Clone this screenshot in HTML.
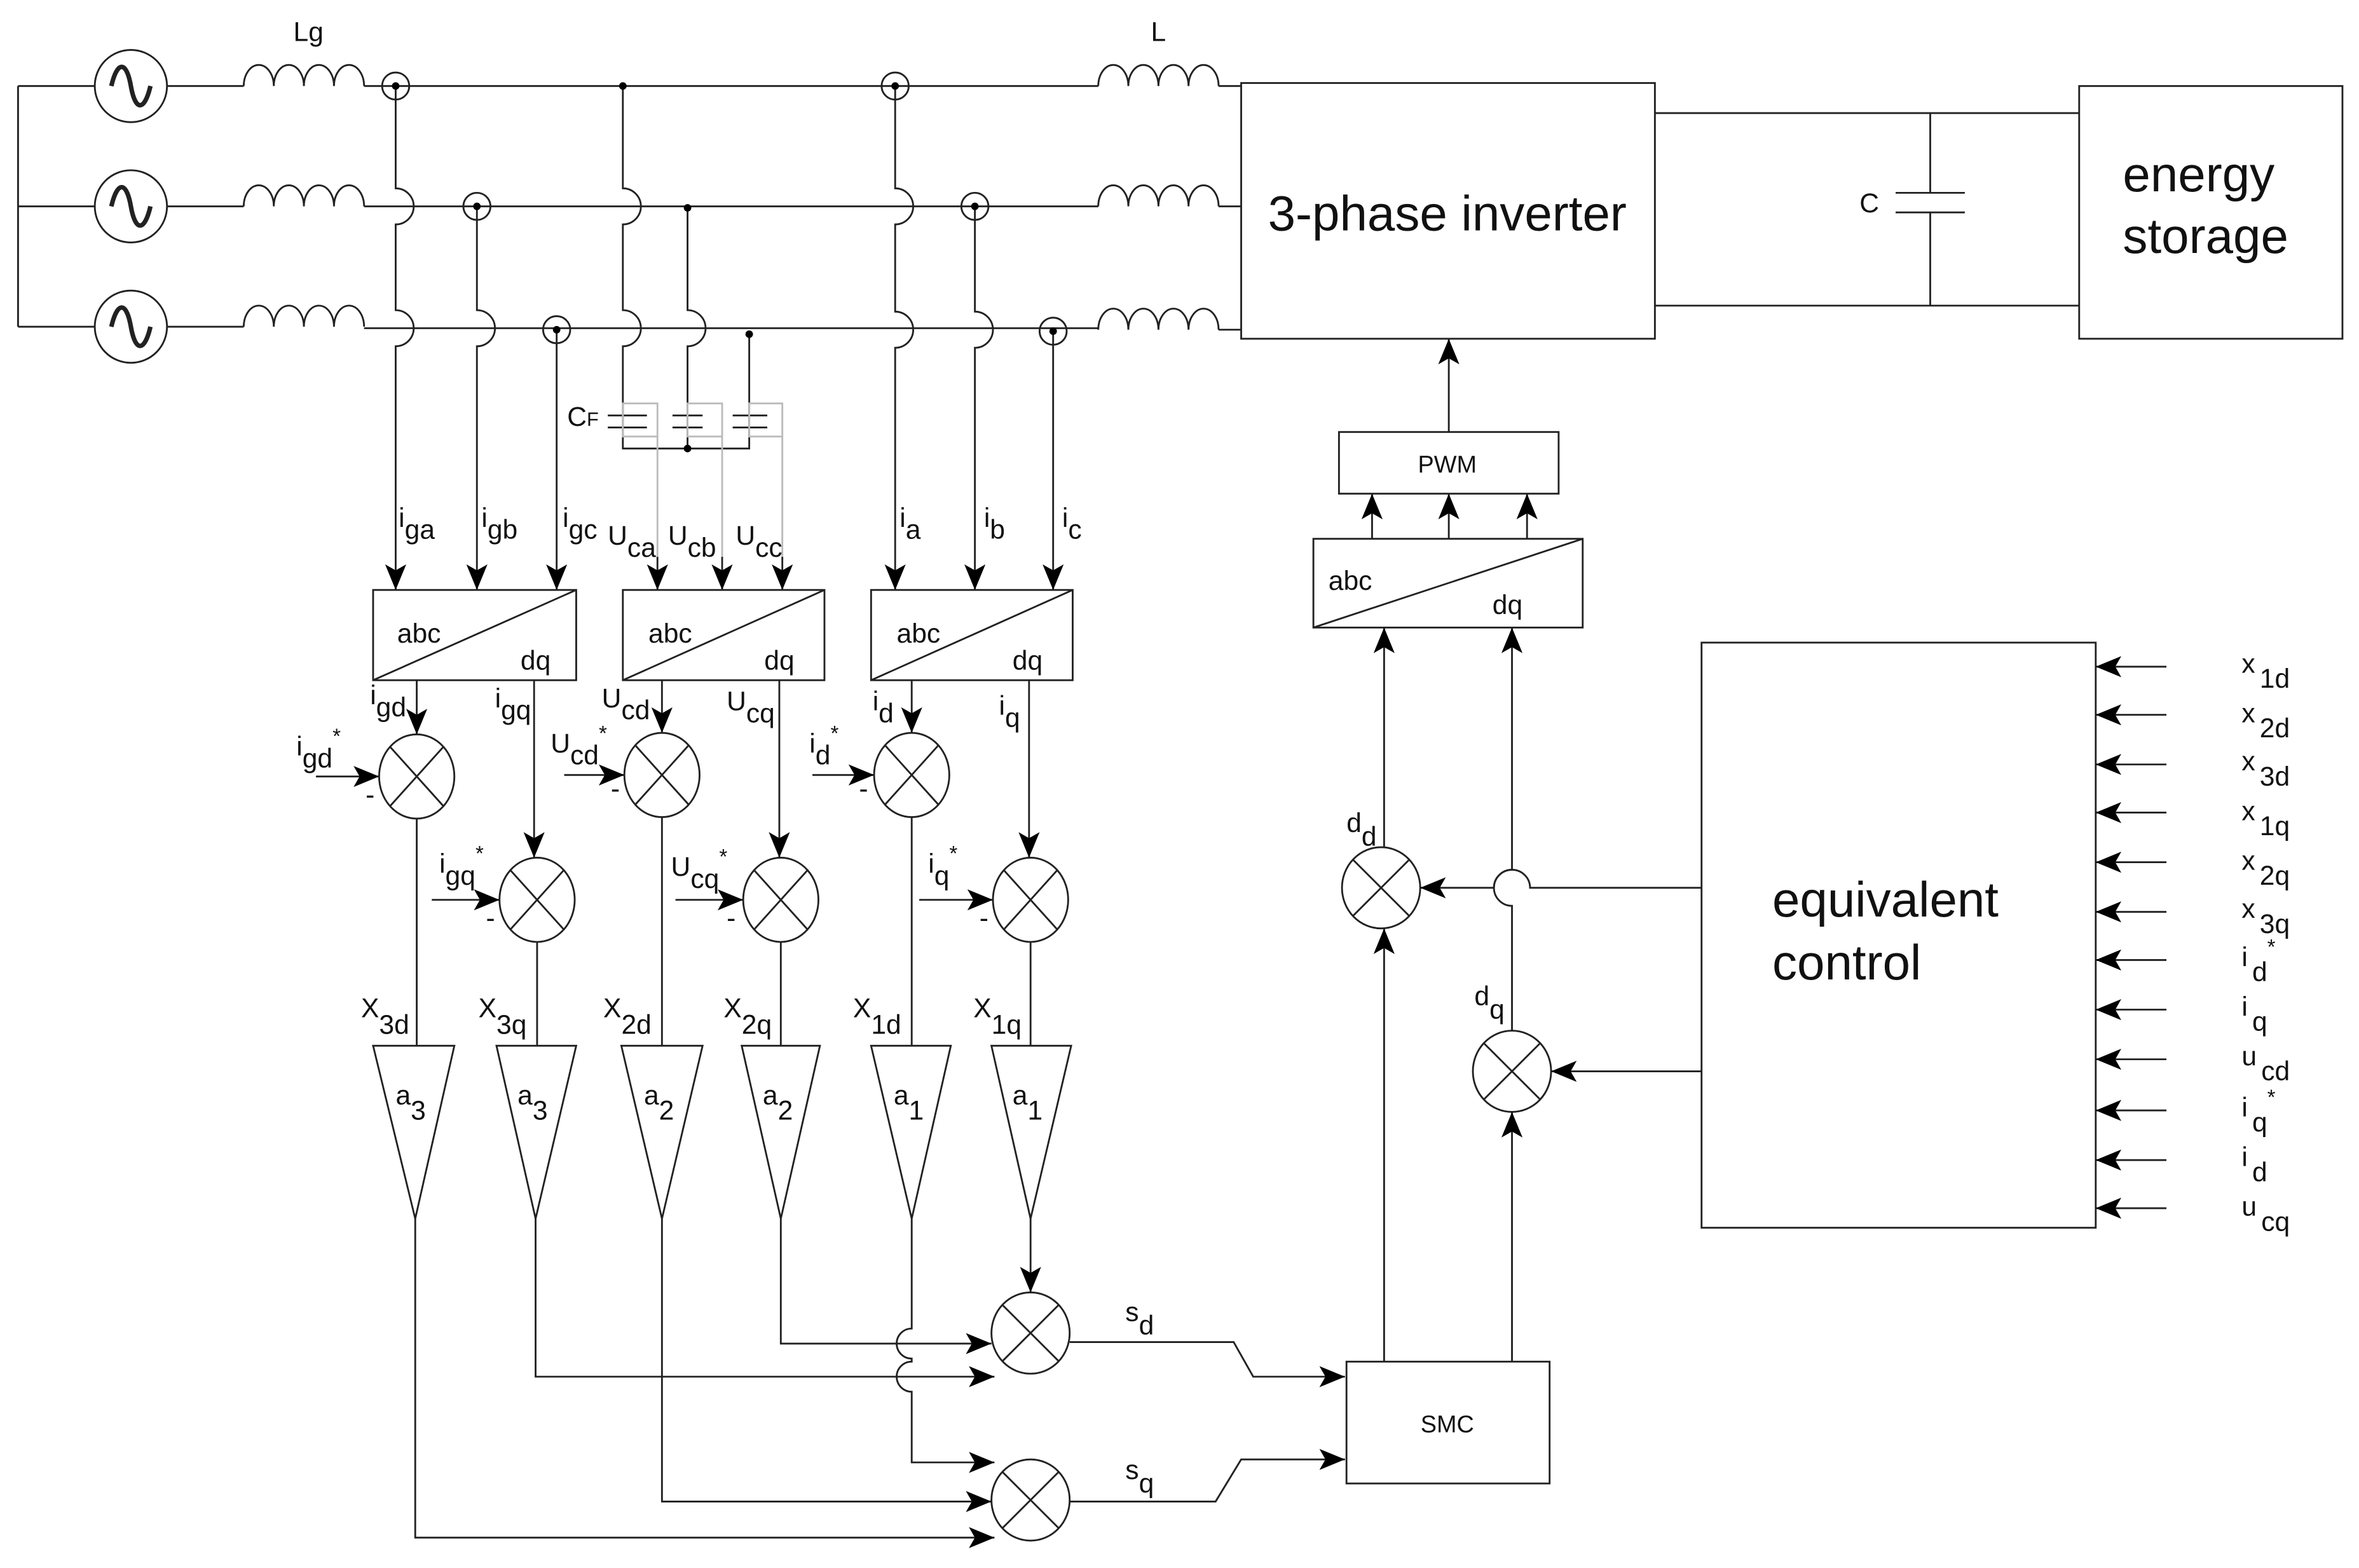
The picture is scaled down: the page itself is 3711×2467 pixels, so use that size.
<!DOCTYPE html>
<html><head><meta charset="utf-8"><style>
html,body{margin:0;padding:0;background:#fff;}
svg{display:block;}
text{font-family:"Liberation Sans",sans-serif;fill:#111;}
</style></head><body>
<svg width="3711" height="2467" viewBox="0 0 1568 1042" xmlns="http://www.w3.org/2000/svg">
<defs>
<marker id="ar" markerUnits="userSpaceOnUse" markerWidth="18" markerHeight="14" refX="17" refY="7" orient="auto">
<path d="M0,0 L17,7 L0,14 L4,7 Z" fill="#000"/>
</marker>
</defs>
<g fill="none" stroke="#222" stroke-width="1.2">
<!-- sources -->
<path d="M12 57 V217 M12 57 H63 M111 57 H162 M12 137 H63 M111 137 H162 M12 217 H63 M111 217 H162"/>
<circle cx="87" cy="57" r="24"/><circle cx="87" cy="137" r="24"/><circle cx="87" cy="217" r="24"/>
<path d="M74 57 C78 40 84 40 87 57 C90 74 96 74 100 57" stroke-width="3"/>
<path d="M74 137 C78 120 84 120 87 137 C90 154 96 154 100 137" stroke-width="3"/>
<path d="M74 217 C78 200 84 200 87 217 C90 234 96 234 100 217" stroke-width="3"/>
<!-- Lg inductors -->
<path d="M162 57 a10 14 0 0 1 20 0 a10 14 0 0 1 20 0 a10 14 0 0 1 20 0 a10 14 0 0 1 20 0"/>
<path d="M162 137 a10 14 0 0 1 20 0 a10 14 0 0 1 20 0 a10 14 0 0 1 20 0 a10 14 0 0 1 20 0"/>
<path d="M162 217 a10 14 0 0 1 20 0 a10 14 0 0 1 20 0 a10 14 0 0 1 20 0 a10 14 0 0 1 20 0"/>
<!-- L inductors -->
<path d="M730 57 a10 14 0 0 1 20 0 a10 14 0 0 1 20 0 a10 14 0 0 1 20 0 a10 14 0 0 1 20 0"/>
<path d="M730 137 a10 14 0 0 1 20 0 a10 14 0 0 1 20 0 a10 14 0 0 1 20 0 a10 14 0 0 1 20 0"/>
<path d="M730 219 a10 14 0 0 1 20 0 a10 14 0 0 1 20 0 a10 14 0 0 1 20 0 a10 14 0 0 1 20 0"/>
<path d="M242 57 H730 M810 57 H825 M242 137 H730 M810 137 H825 M242 218 H730 M810 219 H825"/>
<!-- sensor circles -->
<circle cx="263" cy="57" r="9"/><circle cx="317" cy="137" r="9"/><circle cx="370" cy="219" r="9"/>
<circle cx="595" cy="57" r="9"/><circle cx="648" cy="137" r="9"/><circle cx="700" cy="220" r="9"/>
<!-- vertical measurement lines with hops -->
<path d="M263 57 V125 A12 12 0 0 1 263 149 V206 A12 12 0 0 1 263 230 V392" marker-end="url(#ar)"/>
<path d="M317 137 V206 A12 12 0 0 1 317 230 V392" marker-end="url(#ar)"/>
<path d="M370 219 V392" marker-end="url(#ar)"/>
<path d="M595 57 V125 A12 12 0 0 1 595 149 V207 A12 12 0 0 1 595 231 V392" marker-end="url(#ar)"/>
<path d="M648 137 V207 A12 12 0 0 1 648 231 V392" marker-end="url(#ar)"/>
<path d="M700 220 V392" marker-end="url(#ar)"/>
<path d="M414 57 V125 A12 12 0 0 1 414 149 V206 A12 12 0 0 1 414 230 V298 H498 V222"/>
<path d="M457 138 V206 A12 12 0 0 1 457 230 V298"/>
<!-- CF caps -->
<path d="M404 276 H430 M404 284 H430 M447 276 H467 M447 284 H467 M487 276 H510 M487 284 H510"/>
<g stroke="#bbb"><rect x="414" y="268" width="23" height="22"/><rect x="457" y="268" width="23" height="22"/><rect x="498" y="268" width="22" height="22"/>
<path d="M437 290 V372 M480 290 V372 M520 290 V372"/></g>
<path d="M437 370 V392" marker-end="url(#ar)"/>
<path d="M480 370 V392" marker-end="url(#ar)"/>
<path d="M520 370 V392" marker-end="url(#ar)"/>
<!-- abc/dq boxes -->
<rect x="248" y="392" width="135" height="60"/><path d="M248 452 L383 392"/>
<rect x="414" y="392" width="134" height="60"/><path d="M414 452 L548 392"/>
<rect x="579" y="392" width="134" height="60"/><path d="M579 452 L713 392"/>
<!-- box outputs to summers -->
<path d="M277 452 V488" marker-end="url(#ar)"/>
<path d="M355 452 V570" marker-end="url(#ar)"/>
<path d="M440 452 V487" marker-end="url(#ar)"/>
<path d="M518 452 V570" marker-end="url(#ar)"/>
<path d="M606 452 V487" marker-end="url(#ar)"/>
<path d="M684 452 V570" marker-end="url(#ar)"/>
<!-- reference inputs -->
<path d="M210 516 H252" marker-end="url(#ar)"/>
<path d="M287 598 H332" marker-end="url(#ar)"/>
<path d="M375 515 H415" marker-end="url(#ar)"/>
<path d="M449 598 H494" marker-end="url(#ar)"/>
<path d="M540 515 H581" marker-end="url(#ar)"/>
<path d="M611 598 H660" marker-end="url(#ar)"/>
<!-- summers -->
<ellipse cx="277" cy="516" rx="25" ry="28"/><path d="M259 496 L295 536 M295 496 L259 536"/>
<ellipse cx="357" cy="598" rx="25" ry="28"/><path d="M339 578 L375 618 M375 578 L339 618"/>
<ellipse cx="440" cy="515" rx="25" ry="28"/><path d="M422 495 L458 535 M458 495 L422 535"/>
<ellipse cx="519" cy="598" rx="25" ry="28"/><path d="M501 578 L537 618 M537 578 L501 618"/>
<ellipse cx="606" cy="515" rx="25" ry="28"/><path d="M588 495 L624 535 M624 495 L588 535"/>
<ellipse cx="685" cy="598" rx="25" ry="28"/><path d="M667 578 L703 618 M703 578 L667 618"/>
<ellipse cx="685" cy="886" rx="26" ry="27"/><path d="M666 867 L704 905 M704 867 L666 905"/>
<ellipse cx="685" cy="997" rx="26" ry="27"/><path d="M666 978 L704 1016 M704 978 L666 1016"/>
<ellipse cx="918" cy="590" rx="26" ry="27"/><path d="M899 571 L937 609 M937 571 L899 609"/>
<ellipse cx="1005" cy="712" rx="26" ry="27"/><path d="M986 693 L1024 731 M1024 693 L986 731"/>
<!-- summer to triangles -->
<path d="M277 544 V695 M357 626 V695 M440 543 V695 M519 626 V695 M606 543 V695 M685 626 V695"/>
<!-- triangles -->
<path d="M248 695 H302 L276 810 Z M330 695 H383 L356 810 Z M413 695 H467 L440 810 Z M493 695 H545 L519 810 Z M579 695 H632 L606 810 Z M659 695 H712 L685 810 Z"/>
<!-- bottom routing -->
<path d="M276 810 V1022 H661" marker-end="url(#ar)"/>
<path d="M356 810 V915 H661" marker-end="url(#ar)"/>
<path d="M440 810 V998 H659" marker-end="url(#ar)"/>
<path d="M519 810 V893 H659" marker-end="url(#ar)"/>
<path d="M606 810 V883 A10 10 0 0 0 606 903 V905 A10 10 0 0 0 606 925 V972 H661" marker-end="url(#ar)"/>
<path d="M685 810 V859" marker-end="url(#ar)"/>
<!-- to SMC -->
<path d="M711 892 H820 L833 915 H894" marker-end="url(#ar)"/>
<path d="M711 998 H808 L825 970 H894" marker-end="url(#ar)"/>
<rect x="895" y="905" width="135" height="81"/>
<path d="M920 905 V617" marker-end="url(#ar)"/>
<path d="M1005 905 V739" marker-end="url(#ar)"/>
<path d="M920 563 V417" marker-end="url(#ar)"/>
<path d="M1005 685 V602 A12 12 0 0 1 1005 578 V417" marker-end="url(#ar)"/>
<path d="M1131 590 H1017 A12 12 0 0 0 993 590 H944" marker-end="url(#ar)"/>
<path d="M1131 712 H1031" marker-end="url(#ar)"/>
<!-- abc/dq big -->
<rect x="873" y="358" width="179" height="59"/><path d="M873 417 L1052 358"/>
<path d="M912 358 V328" marker-end="url(#ar)"/>
<path d="M963 358 V328" marker-end="url(#ar)"/>
<path d="M1015 358 V328" marker-end="url(#ar)"/>
<rect x="890" y="287" width="146" height="41"/>
<path d="M963 287 V225" marker-end="url(#ar)"/>
<rect x="825" y="55" width="275" height="170"/>
<path d="M1100 75 H1382 M1100 203 H1382 M1283 75 V128 M1283 141 V203 M1260 128 H1306 M1260 141 H1306"/>
<rect x="1382" y="57" width="175" height="168"/>
<rect x="1131" y="427" width="262" height="389"/>
<path d="M1440 443 H1393" marker-end="url(#ar)"/>
<path d="M1440 475 H1393" marker-end="url(#ar)"/>
<path d="M1440 508 H1393" marker-end="url(#ar)"/>
<path d="M1440 540 H1393" marker-end="url(#ar)"/>
<path d="M1440 573 H1393" marker-end="url(#ar)"/>
<path d="M1440 606 H1393" marker-end="url(#ar)"/>
<path d="M1440 638 H1393" marker-end="url(#ar)"/>
<path d="M1440 671 H1393" marker-end="url(#ar)"/>
<path d="M1440 704 H1393" marker-end="url(#ar)"/>
<path d="M1440 738 H1393" marker-end="url(#ar)"/>
<path d="M1440 771 H1393" marker-end="url(#ar)"/>
<path d="M1440 803 H1393" marker-end="url(#ar)"/>
</g>
<g fill="#000">
<circle cx="263" cy="57" r="2.5"/><circle cx="317" cy="137" r="2.5"/><circle cx="370" cy="219" r="2.5"/>
<circle cx="595" cy="57" r="2.5"/><circle cx="648" cy="137" r="2.5"/><circle cx="700" cy="220" r="2.5"/>
<circle cx="414" cy="57" r="2.5"/><circle cx="457" cy="138" r="2.5"/><circle cx="498" cy="222" r="2.5"/><circle cx="457" cy="298" r="2.5"/>
</g>
<g font-size="18">
<text x="195" y="27">Lg</text><text x="765" y="27">L</text>
<text x="377" y="283">C<tspan font-size="13">F</tspan></text>
<text x="265" y="350">i<tspan dy="8">ga</tspan></text>
<text x="320" y="350">i<tspan dy="8">gb</tspan></text>
<text x="374" y="350">i<tspan dy="8">gc</tspan></text>
<text x="404" y="362">U<tspan dy="8">ca</tspan></text>
<text x="444" y="362">U<tspan dy="8">cb</tspan></text>
<text x="489" y="362">U<tspan dy="8">cc</tspan></text>
<text x="598" y="350">i<tspan dy="8">a</tspan></text>
<text x="654" y="350">i<tspan dy="8">b</tspan></text>
<text x="706" y="350">i<tspan dy="8">c</tspan></text>
<text x="264" y="427">abc</text><text x="346" y="445">dq</text>
<text x="431" y="427">abc</text><text x="508" y="445">dq</text>
<text x="596" y="427">abc</text><text x="673" y="445">dq</text>
<text x="246" y="468">i<tspan dy="8">gd</tspan></text>
<text x="329" y="470">i<tspan dy="8">gq</tspan></text>
<text x="400" y="470">U<tspan dy="8">cd</tspan></text>
<text x="483" y="472">U<tspan dy="8">cq</tspan></text>
<text x="580" y="472">i<tspan dy="8">d</tspan></text>
<text x="664" y="475">i<tspan dy="8">q</tspan></text>
<text x="197" y="502">i<tspan dy="8">gd</tspan><tspan dy="-16" font-size="14">*</tspan></text>
<text x="366" y="500">U<tspan dy="8">cd</tspan><tspan dy="-16" font-size="14">*</tspan></text>
<text x="538" y="500">i<tspan dy="8">d</tspan><tspan dy="-16" font-size="14">*</tspan></text>
<text x="292" y="580">i<tspan dy="8">gq</tspan><tspan dy="-16" font-size="14">*</tspan></text>
<text x="446" y="582">U<tspan dy="8">cq</tspan><tspan dy="-16" font-size="14">*</tspan></text>
<text x="617" y="580">i<tspan dy="8">q</tspan><tspan dy="-16" font-size="14">*</tspan></text>
<text x="243" y="534">-</text><text x="323" y="616">-</text><text x="406" y="530">-</text>
<text x="483" y="616">-</text><text x="571" y="530">-</text><text x="651" y="616">-</text>
<text x="240" y="676">X<tspan dy="11">3d</tspan></text>
<text x="318" y="676">X<tspan dy="11">3q</tspan></text>
<text x="401" y="676">X<tspan dy="11">2d</tspan></text>
<text x="481" y="676">X<tspan dy="11">2q</tspan></text>
<text x="567" y="676">X<tspan dy="11">1d</tspan></text>
<text x="647" y="676">X<tspan dy="11">1q</tspan></text>
<text x="263" y="734">a<tspan dy="10">3</tspan></text>
<text x="344" y="734">a<tspan dy="10">3</tspan></text>
<text x="428" y="734">a<tspan dy="10">2</tspan></text>
<text x="507" y="734">a<tspan dy="10">2</tspan></text>
<text x="594" y="734">a<tspan dy="10">1</tspan></text>
<text x="673" y="734">a<tspan dy="10">1</tspan></text>
<text x="748" y="878">s<tspan dy="9">d</tspan></text>
<text x="748" y="983">s<tspan dy="9">q</tspan></text>
<text x="895" y="553">d<tspan dy="9">d</tspan></text>
<text x="980" y="668">d<tspan dy="9">q</tspan></text>
<text x="883" y="392">abc</text><text x="992" y="408">dq</text>
<text x="1236" y="141">C</text>
<text x="1490" y="447">x<tspan dy="10" dx="3">1d</tspan></text>
<text x="1490" y="480">x<tspan dy="10" dx="3">2d</tspan></text>
<text x="1490" y="512">x<tspan dy="10" dx="3">3d</tspan></text>
<text x="1490" y="545">x<tspan dy="10" dx="3">1q</tspan></text>
<text x="1490" y="578">x<tspan dy="10" dx="3">2q</tspan></text>
<text x="1490" y="610">x<tspan dy="10" dx="3">3q</tspan></text>
<text x="1490" y="642">i<tspan dy="10" dx="3">d</tspan><tspan dy="-18" font-size="14">*</tspan></text>
<text x="1490" y="675">i<tspan dy="10" dx="3">q</tspan></text>
<text x="1490" y="708">u<tspan dy="10" dx="3">cd</tspan></text>
<text x="1490" y="742">i<tspan dy="10" dx="3">q</tspan><tspan dy="-18" font-size="14">*</tspan></text>
<text x="1490" y="775">i<tspan dy="10" dx="3">d</tspan></text>
<text x="1490" y="808">u<tspan dy="10" dx="3">cq</tspan></text>
</g>
<text x="962" y="952" font-size="16" text-anchor="middle">SMC</text>
<text x="962" y="314" font-size="16" text-anchor="middle">PWM</text>
<g font-size="33">
<text x="962" y="153" text-anchor="middle">3-phase inverter</text>
<text x="1411" y="127">energy</text>
<text x="1411" y="168">storage</text>
<text x="1178" y="609">equivalent</text>
<text x="1178" y="651">control</text>
</g>
</svg>
</body></html>
